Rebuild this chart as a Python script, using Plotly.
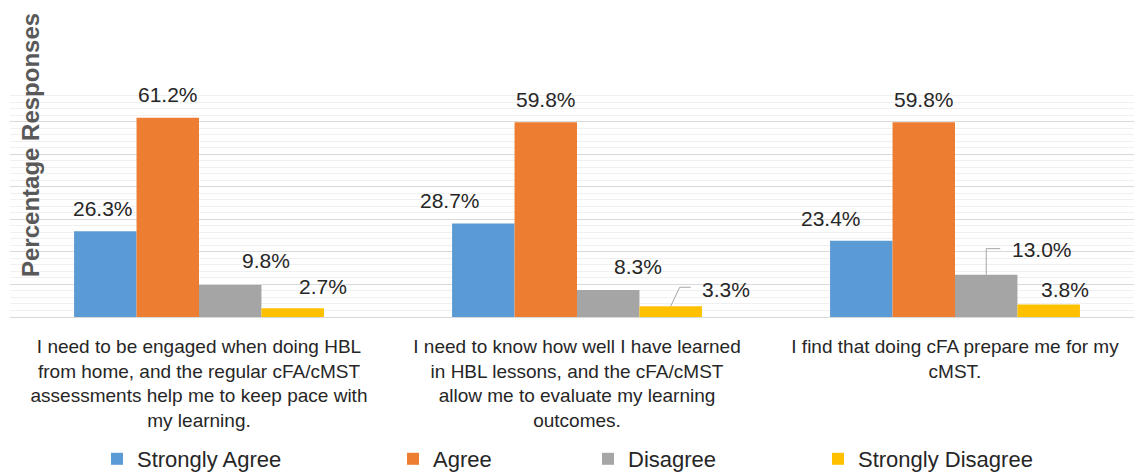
import plotly.graph_objects as go

# Survey statements (category axis), with manual line breaks
categories = [
    "I need to be engaged when doing HBL<br>from home, and the regular cFA/cMST<br>"
    "assessments help me to keep pace with<br>my learning.",
    "I need to know how well I have learned<br>in HBL lessons, and the cFA/cMST<br>"
    "allow me to evaluate my learning<br>outcomes.",
    "I find that doing cFA prepare me for my<br>cMST.",
]

series_names = ["Strongly Agree", "Agree", "Disagree", "Strongly Disagree"]
strongly_agree = [26.3, 28.7, 23.4]
agree = [61.2, 59.8, 59.8]
disagree = [9.8, 8.3, 13.0]
strongly_disagree = [2.7, 3.3, 3.8]
series_values = [strongly_agree, agree, disagree, strongly_disagree]

colors = ["#5B9BD5", "#ED7D31", "#A5A5A5", "#FFC000"]

# Layout geometry
W, H = 1134, 472
M_L, M_R, M_T, M_B = 10, 0, 89, 155
CAT_PX = 378.0
BARGAP = 0.339
plot_w = W - M_L - M_R
plot_h = H - M_T - M_B
x_range = [-0.5, -0.5 + plot_w / CAT_PX]
bar_px = CAT_PX * (1 - BARGAP) / len(series_names)

# Label placement: (dx from bar centre, rise of text centre above bar top), px
label_offsets = [
    [(-2, 23), (-33, 23), (-30, 22)],
    [(0, 23), (0, 23), (0, 23)],
    [(36, 25), (30, 23), (56, 25)],
    [(30, 22), (55, 17), (16, 15)],
]
# Leader lines: (series index, category index) -> path in px relative to bar top centre
leaders = {
    (3, 1): [(0, 0), (9, 19), (20, 19)],
    (2, 2): [(0, 0), (0, 26), (14, 26)],
}

TEXT = "#262626"
FONT = "Liberation Sans, Arial, sans-serif"

fig = go.Figure()
legend_ids = ["legend", "legend2", "legend3", "legend4"]
for s, (name, vals, col) in enumerate(zip(series_names, series_values, colors)):
    fig.add_trace(go.Bar(
        x=list(range(len(categories))), y=vals, name=name,
        marker=dict(color=col, line=dict(width=0)),
        legend=legend_ids[s], hoverinfo="y+name",
    ))

annotations = []
shapes = []
for s, vals in enumerate(series_values):
    for c, v in enumerate(vals):
        bx = (s - (len(series_names) - 1) / 2) * bar_px
        dx, dy = label_offsets[s][c]
        annotations.append(dict(
            x=c, y=v, xref="x", yref="y", text=f"{v:.1f}%", showarrow=False,
            xanchor="center", yanchor="middle", xshift=bx + dx, yshift=dy,
            font=dict(family=FONT, size=21, color=TEXT),
        ))
        if (s, c) in leaders:
            pts = leaders[(s, c)]
            path = "M" + " L".join(f"{bx + px},{py}" for px, py in pts)
            shapes.append(dict(
                type="path", xref="x", yref="y", xsizemode="pixel", ysizemode="pixel",
                xanchor=c, yanchor=v, path=path,
                line=dict(color="#A6A6A6", width=1),
            ))

# Rotated value-axis title, centred 145 px from the top of the figure
title_center_px = 145
annotations.append(dict(
    x=0, y=(H - M_B - title_center_px) / plot_h, xref="paper", yref="paper",
    text="<b>Percentage Responses</b>", textangle=-90, showarrow=False,
    xanchor="center", yanchor="middle", xshift=20,
    font=dict(family=FONT, size=24, color="#595959"),
))

legend_marker_x = [117, 413, 608, 838]
legends = {}
for i, lx in enumerate(legend_marker_x):
    legends[legend_ids[i]] = dict(
        x=(lx - 20) / W, xref="container", xanchor="left",
        y=1 - 459 / H, yref="container", yanchor="middle",
        orientation="h", font=dict(family=FONT, size=22, color=TEXT),
        bgcolor="rgba(0,0,0,0)", borderwidth=0,
    )

fig.update_layout(
    width=W, height=H,
    margin=dict(l=M_L, r=M_R, t=M_T, b=M_B, pad=0),
    paper_bgcolor="white", plot_bgcolor="white",
    barmode="group", bargap=BARGAP, bargroupgap=0,
    font=dict(family=FONT, color=TEXT),
    xaxis=dict(
        type="linear", range=x_range, tickmode="array",
        tickvals=list(range(len(categories))), ticktext=categories,
        tickfont=dict(family=FONT, size=19, color=TEXT),
        showgrid=False, zeroline=False, showline=False, ticks="",
        ticklabelstandoff=16,
    ),
    yaxis=dict(
        range=[0, 70], dtick=10, showticklabels=False, ticks="",
        showgrid=True, gridcolor="#D9D9D9", gridwidth=1,
        zeroline=True, zerolinecolor="#D9D9D9", zerolinewidth=1,
        minor=dict(dtick=2, showgrid=True, gridcolor="#F0F0F0", gridwidth=1),
    ),
    annotations=annotations, shapes=shapes,
    showlegend=True,
    **legends,
)

fig.write_html("out.html")
